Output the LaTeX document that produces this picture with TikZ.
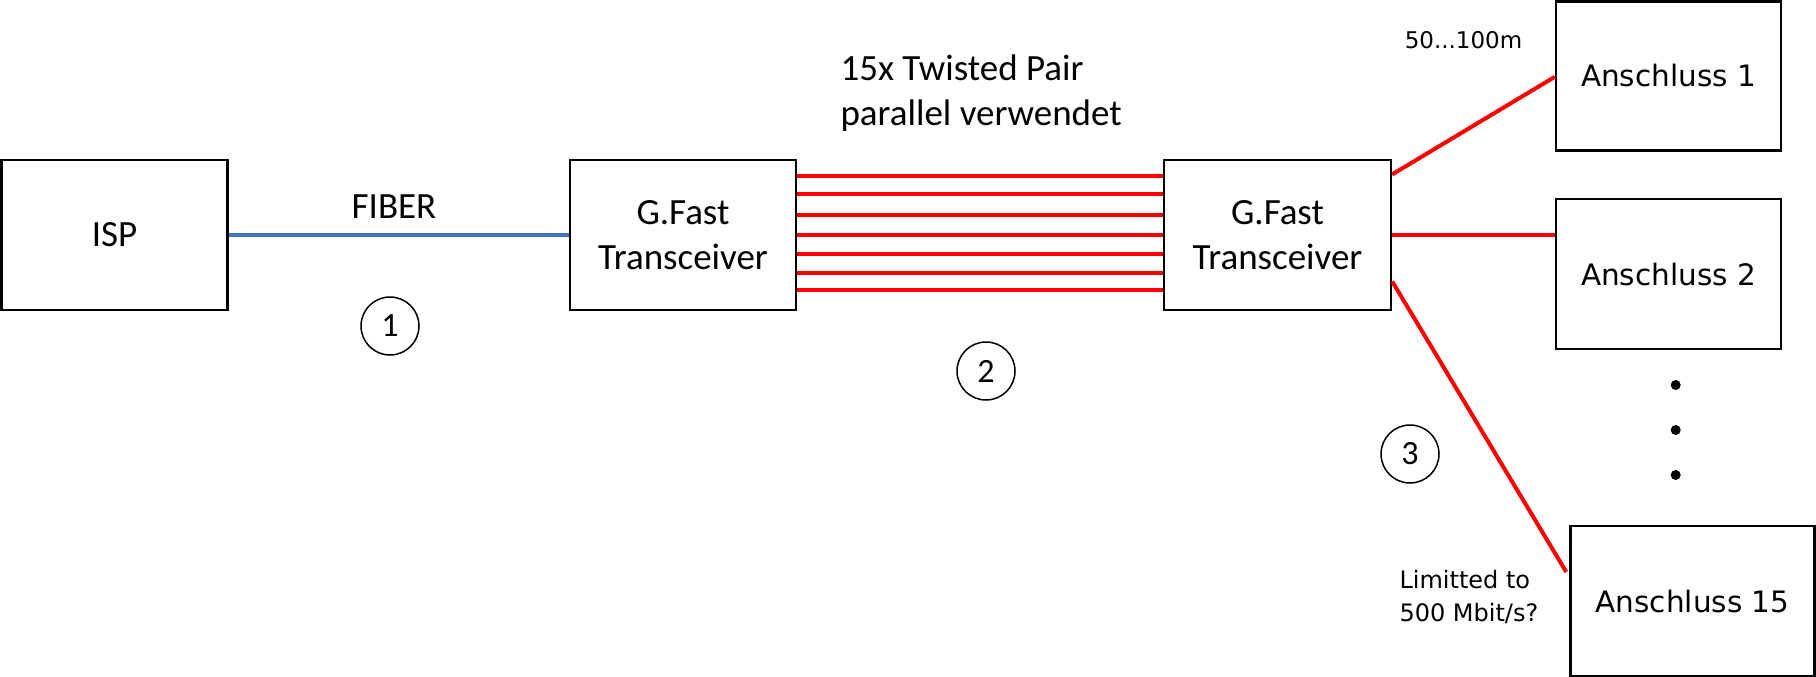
\documentclass[tikz,border=0pt]{standalone}
\usepackage{fontspec}
\newfontfamily\calfam{Carlito}
\newfontfamily\verdfam{DejaVu Sans}
\definecolor{fiberblue}{HTML}{4472C4}
\definecolor{tpred}{HTML}{FF0000}
\tikzset{
  box/.style={draw, line width=2.5pt, inner sep=0pt, minimum height=150pt, align=center},
  calfont/.style={font=\calfam\fontsize{37}{45}\selectfont},
  anfont/.style={font=\verdfam\fontsize{29.5}{36}\selectfont},
  numcirc/.style={circle, draw, line width=1.5pt, minimum size=58pt, inner sep=0pt, font=\calfam\fontsize{34}{40}\selectfont},
  dotnode/.style={circle, fill, inner sep=0pt, minimum size=10pt},
  redline/.style={tpred, line width=4pt},
  blueline/.style={fiberblue, line width=3.5pt},
}
\begin{document}
\begin{tikzpicture}[x=1pt, y=-1pt]
\useasboundingbox (0,0) rectangle (1816,677);
% boxes
\node[box, calfont, minimum width=226pt] (isp) at (114.5,235) {ISP};
\node[box, calfont, minimum width=226pt] (gl) at (683,235) {G.Fast\\Transceiver};
\node[box, calfont, minimum width=227pt] (gr) at (1277.5,235) {G.Fast\\Transceiver};
\node[box, anfont, minimum width=225pt, minimum height=149pt] (a1) at (1668.5,76) {Anschluss 1};
\node[box, anfont, minimum width=225pt] (a2) at (1668.5,274) {Anschluss 2};
\node[box, anfont, minimum width=244pt] (a15) at (1692.5,601) {Anschluss 15};
% fiber
\draw[blueline] (isp.east) -- (gl.west);
\node[calfont] (fiberlbl) at (394,207) {FIBER};
% twisted pairs
\foreach \s in {59.4, 41.1, 19.6, -0.3, -18.6, -37.5, -55.1}{
  \draw[redline] ([yshift=\s pt]gl.east) -- ([yshift=\s pt]gr.west);
}
\node[calfont, align=left, anchor=west] (tplbl) at (837,93.3) {15x Twisted Pair\\parallel verwendet};
% distribution
\draw[redline] ([yshift=60.6pt]gr.east) -- ([yshift=-0.9pt]a1.west);
\draw[redline] ([yshift=-0.3pt]gr.east) -- ([yshift=38.7pt]a2.west);
\draw[redline] ([yshift=-46.5pt]gr.east) -- ([xshift=-3pt, yshift=29pt]a15.west);
\node[font=\verdfam\fontsize{23}{28}\selectfont] (distlbl) at (1463.5,40) {50...100m};
\node[font=\verdfam\fontsize{24}{33}\selectfont, align=left, anchor=west] (limlbl) at (1396,596.5) {Limitted to\\500 Mbit/s?};
% dots
\node[dotnode] (d1) at (1675.7,385) {};
\node[dotnode] (d2) at (1675.7,430) {};
\node[dotnode] (d3) at (1675.7,475) {};
% numbered circles
\node[numcirc] (c1) at (390,326) {1};
\node[numcirc] (c2) at (986,371) {2};
\node[numcirc] (c3) at (1410,454) {3};
\end{tikzpicture}
\end{document}
